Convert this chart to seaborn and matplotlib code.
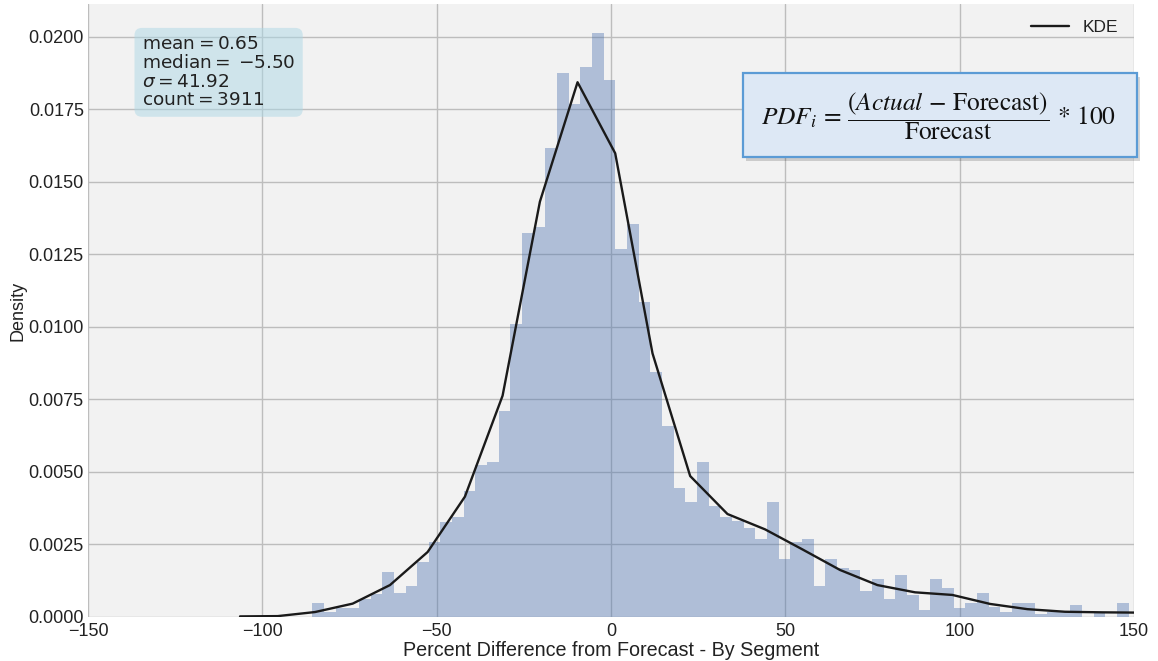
import numpy as np
import pandas as pd
import matplotlib
matplotlib.use("Agg")
import matplotlib.pyplot as plt
import seaborn as sns
from matplotlib.patches import Rectangle
from matplotlib.ticker import FormatStrFormatter

# Histogram bins (percent difference) and the density of each bin
bin_start = -85.7
bin_width = 3.345
density = [
    0.00047, 0.00018, 0.00030, 0.00032, 0.00063, 0.00078, 0.00154, 0.00084,
    0.00107, 0.00190, 0.00260, 0.00329, 0.00346, 0.00435, 0.00523, 0.00533,
    0.00710, 0.01010, 0.01325, 0.01346, 0.01616, 0.01875, 0.01769, 0.01898,
    0.02013, 0.01852, 0.01270, 0.01354, 0.01086, 0.00844, 0.00659, 0.00444,
    0.00398, 0.00533, 0.00383, 0.00346, 0.00331, 0.00306, 0.00268, 0.00395,
    0.00201, 0.00260, 0.00268, 0.00107, 0.00200, 0.00170, 0.00161, 0.00091,
    0.00130, 0.00061, 0.00145, 0.00077, 0.00025, 0.00130, 0.00099, 0.00032,
    0.00048, 0.00083, 0.00034, 0.00016, 0.00047, 0.00047, 0.00010, 0.00018,
    0.00018, 0.00040, 0.00000, 0.00013, 0.00000, 0.00047, 0.00000,
]

# Kernel density estimate evaluated on a coarse grid
kde_x = [-106.4, -95.6, -84.9, -74.1, -63.4, -52.6, -41.9, -31.1, -20.4,
         -9.6, 1.2, 11.9, 22.7, 33.4, 44.2, 54.9, 65.7, 76.4, 87.2, 97.9,
         108.7, 119.4, 130.2, 140.9, 151.7]
kde_y = [0.00002, 0.00003, 0.00017, 0.00046, 0.00110, 0.00224, 0.00415,
         0.00763, 0.01432, 0.01844, 0.01599, 0.00909, 0.00486, 0.00355,
         0.00302, 0.00233, 0.00162, 0.00110, 0.00085, 0.00076, 0.00045,
         0.00027, 0.00018, 0.00016, 0.00015]

# Summary statistics
stat_mean = 0.65
stat_median = -5.50
stat_sigma = 41.92
stat_count = 3911

x_ticks = [-150, -100, -50, 0, 50, 100, 150]
y_ticks = [0.0, 0.0025, 0.0050, 0.0075, 0.0100, 0.0125, 0.0150, 0.0175, 0.0200]

sns.set_theme(style="whitegrid")
plt.rcParams["font.family"] = ["Liberation Sans", "DejaVu Sans"]

fig = plt.figure(figsize=(11.58, 6.61), dpi=100)
ax = fig.add_axes([0.076, 0.0666, 0.9033, 0.9273])
ax.set_facecolor("#f2f2f2")

edges = bin_start + bin_width * np.arange(len(density) + 1)
hist_df = pd.DataFrame({
    "pct": (edges[:-1] + edges[1:]) / 2,
    "dens": density,
})
sns.histplot(data=hist_df, x="pct", weights="dens", bins=list(edges),
             stat="count", color="#4c72b0", alpha=0.4, linewidth=0, ax=ax)
kde_df = pd.DataFrame({"x": kde_x, "y": kde_y})
sns.lineplot(data=kde_df, x="x", y="y", color="#1a1a1a", linewidth=1.7,
             label="KDE", ax=ax)

ax.set_xlim(-150, 150)
ax.set_ylim(0, max(density) * 1.05)
ax.set_xticks(x_ticks)
ax.set_yticks(y_ticks)
ax.yaxis.set_major_formatter(FormatStrFormatter("%.4f"))
ax.tick_params(axis="both", labelsize=13, length=0, colors="#222222")
ax.tick_params(axis="y", pad=3)
ax.tick_params(axis="x", pad=4)
ax.grid(True, color="#bdbdbd", linewidth=1.0)
ax.set_axisbelow(True)
for s in ax.spines.values():
    s.set_visible(False)

ax.set_xlabel("Percent Difference from Forecast - By Segment",
              fontsize=14.2, color="#222222", labelpad=1)
ax.set_ylabel("Density", fontsize=13, color="#222222", labelpad=1)

leg = ax.legend(loc="upper right", frameon=False, fontsize=12.5,
                handlelength=2.2)
for t in leg.get_texts():
    t.set_color("#222222")

stats_text = "\n".join([
    r"$\mathrm{mean}=%.2f$" % stat_mean,
    r"$\mathrm{median}=\:%.2f$" % stat_median,
    r"$\sigma=%.2f$" % stat_sigma,
    r"$\mathrm{count}=%d$" % stat_count,
])
ax.text(0.0515, 0.949, stats_text, transform=ax.transAxes, fontsize=13.3,
        family="DejaVu Sans", va="top", ha="left", color="#222222",
        linespacing=1.05,
        bbox=dict(boxstyle="round,pad=0.4", facecolor="lightblue",
                  alpha=0.5, edgecolor="none"))

# Definition of the plotted quantity, in a shadowed box
bx, by, bw, bh = 743 / 1158, 1 - 157 / 661, 394 / 1158, 84 / 661
shadow = Rectangle((bx + 3 / 1158, by - 4 / 661), bw, bh,
                   transform=fig.transFigure, facecolor="#000000",
                   alpha=0.16, edgecolor="none", zorder=5)
box = Rectangle((bx, by), bw, bh, transform=fig.transFigure,
                facecolor="#dde8f5", edgecolor="#5b9bd5", linewidth=1.6,
                zorder=6)
fig.patches.extend([shadow, box])
fig.text(938 / 1158, by + bh / 2 - 1 / 661,
         r"$PDF_i\, =\, \dfrac{(Actual\,-\,\mathrm{Forecast})}{\mathrm{Forecast}}\, *\, 100$",
         fontsize=18.3, math_fontfamily="stix", ha="center", va="center",
         color="#111111", zorder=7)

fig.savefig("out.png", dpi=100)
